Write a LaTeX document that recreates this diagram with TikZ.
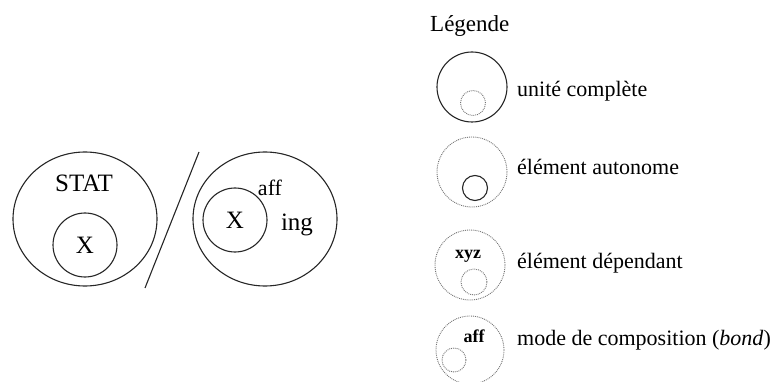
\documentclass[tikz,border=0pt]{standalone}
\usepackage{fontspec}
\setmainfont{Liberation Serif}
\usetikzlibrary{positioning,shapes.geometric}

\begin{document}
\begin{tikzpicture}[x=1pt,y=-1pt,
full/.style={draw=black!85,line width=1.1pt,inner sep=0pt},
fullcirc/.style={full,circle},
fullell/.style={full,ellipse},
dotcirc/.style={circle,draw=black!55,densely dotted,line width=0.9pt,inner sep=0pt},
big/.style={font=\fontsize{25}{30}\selectfont,inner sep=0pt},
lab/.style={anchor=base west,font=\fontsize{22}{26}\selectfont,inner sep=0pt},
tag/.style={font=\fontsize{18}{21}\selectfont\bfseries,inner sep=0pt}]
\useasboundingbox (0,0) rectangle (771,382);
% left word: STAT with X
\node[fullell,minimum width=144pt,minimum height=134pt] (stat) at (85,219) {};
\node[fullcirc,minimum size=64pt] (xstat) at (85,245) {};
\node[big] (stattxt) at (84,183) {STAT};
\node[big] (xa) at (xstat) {X};
% slash
\coordinate (sltop) at (199,152);
\coordinate (slbot) at (145,288);
\draw[line width=1.1pt,draw=black!85] (sltop) -- (slbot);
% right word: X aff ing
\node[fullell,minimum width=144pt,minimum height=134pt] (ing) at (265,219) {};
\node[fullcirc,minimum size=64pt] (xing) at (235,220) {};
\node[big] (xb) at (xing) {X};
\node[font=\fontsize{22}{26}\selectfont,inner sep=0pt] (afftxt) at (270,188) {aff};
\node[big,anchor=base] (ingtxt) at (297,231) {ing};
% legend
\node[lab,font=\fontsize{23}{27}\selectfont] (leg) at (430,32) {Légende};
\node[fullcirc,minimum size=70pt] (u1) at (472,87) {};
\node[dotcirc,minimum size=25pt] (u1s) at (473,103) {};
\node[lab] (t1) at (517,97) {unité complète};
\node[dotcirc,minimum size=70pt] (u2) at (472,172) {};
\node[fullcirc,minimum size=25pt] (u2s) at (475,188) {};
\node[lab] (t2) at (517,175) {élément autonome};
\node[dotcirc,minimum size=70pt] (u3) at (470,265) {};
\node[tag] (xyz) at (468,256) {xyz};
\node[dotcirc,minimum size=26pt] (u3s) at (474,282) {};
\node[lab] (t3) at (517,268) {élément dépendant};
\node[dotcirc,minimum size=68pt] (u4) at (470,350) {};
\node[tag] (aff) at (474,336) {aff};
\node[dotcirc,minimum size=24pt] (u4s) at (454,360) {};
\node[lab] (t4) at (517,345) {mode de composition (\textit{bond})};
\end{tikzpicture}
\end{document}
